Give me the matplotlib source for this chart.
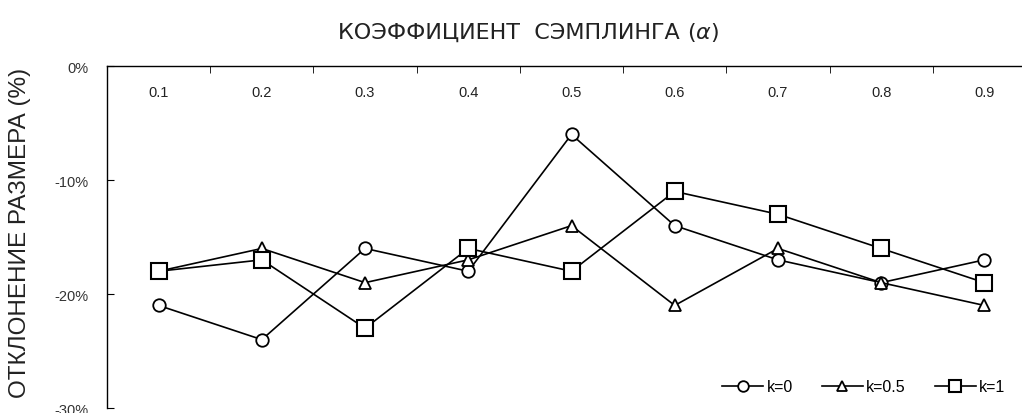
import numpy as np
import matplotlib.pyplot as plt
from matplotlib.ticker import FuncFormatter

plt.rcParams['font.family'] = ['Liberation Sans', 'DejaVu Sans']

# Sampling coefficient (categories) and size deviation in %
alphas = ['0.1', '0.2', '0.3', '0.4', '0.5', '0.6', '0.7', '0.8', '0.9']
k0 = [-21, -24, -16, -18, -6, -14, -17, -19, -17]
k05 = [-18, -16, -19, -17, -14, -21, -16, -19, -21]
k1 = [-18, -17, -23, -16, -18, -11, -13, -16, -19]
y_ticks = [0, -10, -20, -30]

fig = plt.figure(figsize=(10.22, 4.14), dpi=100)
ax = fig.add_axes([0.1047, 0.012, 0.909, 0.826])

x = np.arange(len(alphas))
ax.plot(x, k0, '-o', color='black', lw=1.2, ms=9, mfc='white', mew=1.3, label='k=0')
ax.plot(x, k05, '-^', color='black', lw=1.2, ms=9, mfc='white', mew=1.3, label='k=0.5')
ax.plot(x, k1, '-s', color='black', lw=1.2, ms=11, mfc='white', mew=1.5, label='k=1')

ax.set_xlim(-0.5, len(alphas) - 0.5)
ax.set_ylim(-30, 0)

# category labels sit just under the top spine, ticks between categories
ax.xaxis.set_ticks_position('top')
ax.set_xticks(x)
ax.set_xticklabels(alphas)
ax.tick_params(axis='x', which='major', length=0, pad=-24, labelsize=10.5,
               labelcolor='#222222', top=True, bottom=False,
               labeltop=True, labelbottom=False)
ax.set_xticks(np.arange(len(alphas) + 1) - 0.5, minor=True)
ax.tick_params(axis='x', which='minor', direction='in', length=5, top=True, bottom=False)

ax.set_yticks(y_ticks)
ax.yaxis.set_major_formatter(FuncFormatter(lambda v, p: f'{int(v)}%'))
ax.tick_params(axis='y', direction='in', length=5, pad=13, labelsize=10.5, labelcolor='#333333')

for s in ['right', 'bottom']:
    ax.spines[s].set_visible(False)
ax.spines['left'].set_linewidth(1.0)
ax.spines['top'].set_linewidth(1.0)

fig.text(0.672, 0.922, 'КОЭФФИЦИЕНТ  СЭМПЛИНГА ', ha='right', va='center',
         fontsize=16, color='#222222', family='DejaVu Sans')
fig.text(0.672, 0.922, r'($\alpha$)', ha='left', va='center', fontsize=16,
         color='#222222', family='DejaVu Sans')
fig.text(0.02, 0.437, 'ОТКЛОНЕНИЕ РАЗМЕРА (%)', rotation=90, ha='center', va='center',
         fontsize=17.5, color='#222222')

fig.legend(loc='lower right', bbox_to_anchor=(0.998, 0.01), ncol=3, frameon=False,
           fontsize=11.5, markerscale=0.85, handlelength=2.6, columnspacing=1.8,
           handletextpad=0.2)

fig.savefig('out.png', dpi=100)
